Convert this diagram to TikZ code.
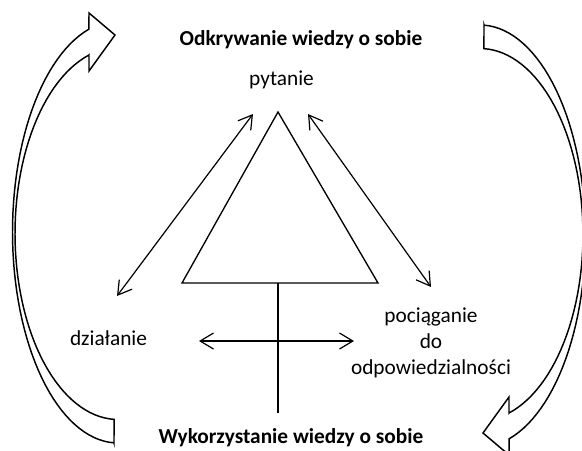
\documentclass[tikz,border=0pt]{standalone}
\usepackage{fontspec}
\setmainfont{Carlito}
\usetikzlibrary{arrows.meta}

\tikzset{
  block arrow/.style={draw, line width=1.1pt, line join=miter, fill=white},
  bend arrow/.pic={
    \draw[block arrow] (114,443)
      -- plot[domain=92.2:254, samples=60, variable=\t] ({118+105.5*cos(\t)},{232+211*sin(\t)})
      -- (89,13) -- (115,35) -- (89,71) -- (89,55)
      -- plot[domain=253.6:92.2, samples=60, variable=\t] ({118+103*cos(\t)},{233.5+186*sin(\t)})
      -- cycle;
  },
}

\begin{document}
\begin{tikzpicture}[
    x=0.75pt, y=-0.75pt,
    every node/.style={font=\fontsize{16}{19.5}\selectfont, inner sep=0pt, anchor=base},
    heading/.style={font=\fontsize{16}{19.5}\selectfont\bfseries},
    two way/.style={line width=0.9pt, {Straight Barb[length=10pt,width=12pt]}-{Straight Barb[length=10pt,width=12pt]}},
]
\useasboundingbox (0,0) rectangle (582,450);

% labels
\node[heading] (discover) at (301,45) {Odkrywanie wiedzy o sobie};
\node[heading] (use) at (291,443) {Wykorzystanie wiedzy o sobie};
\node (question) at (281.5,85) {pytanie};
\node (action) at (108.5,345) {działanie};
\node[align=center, anchor=center] (account) at (431,343) {pociąganie\\do\\odpowiedzialności};

% triangle and cross
\coordinate (apex) at (278,112);
\coordinate (base left) at (182,283);
\coordinate (base right) at (378,283);
\draw[line width=1pt, line join=miter] (apex) -- (base left) -- (base right) -- cycle;
\coordinate (stem top) at (278,283);
\coordinate (stem end) at (278,413);
\draw[line width=1pt] (stem top) -- (stem end);

% arrows between the three labels
\coordinate (q left) at (253,114);
\coordinate (a top) at (117,296);
\coordinate (q right) at (308,114);
\coordinate (r top) at (431,287);
\coordinate (h left) at (199,341);
\coordinate (h right) at (354,341);
\draw[two way] (q left) -- (a top);
\draw[two way] (q right) -- (r top);
\draw[two way] (h left) -- (h right);

% curved block arrows, the right one is the left one turned round
\pic (up arrow) at (0,0) {bend arrow};
\pic[rotate=180] (down arrow) at (598,468) {bend arrow};
\end{tikzpicture}
\end{document}
